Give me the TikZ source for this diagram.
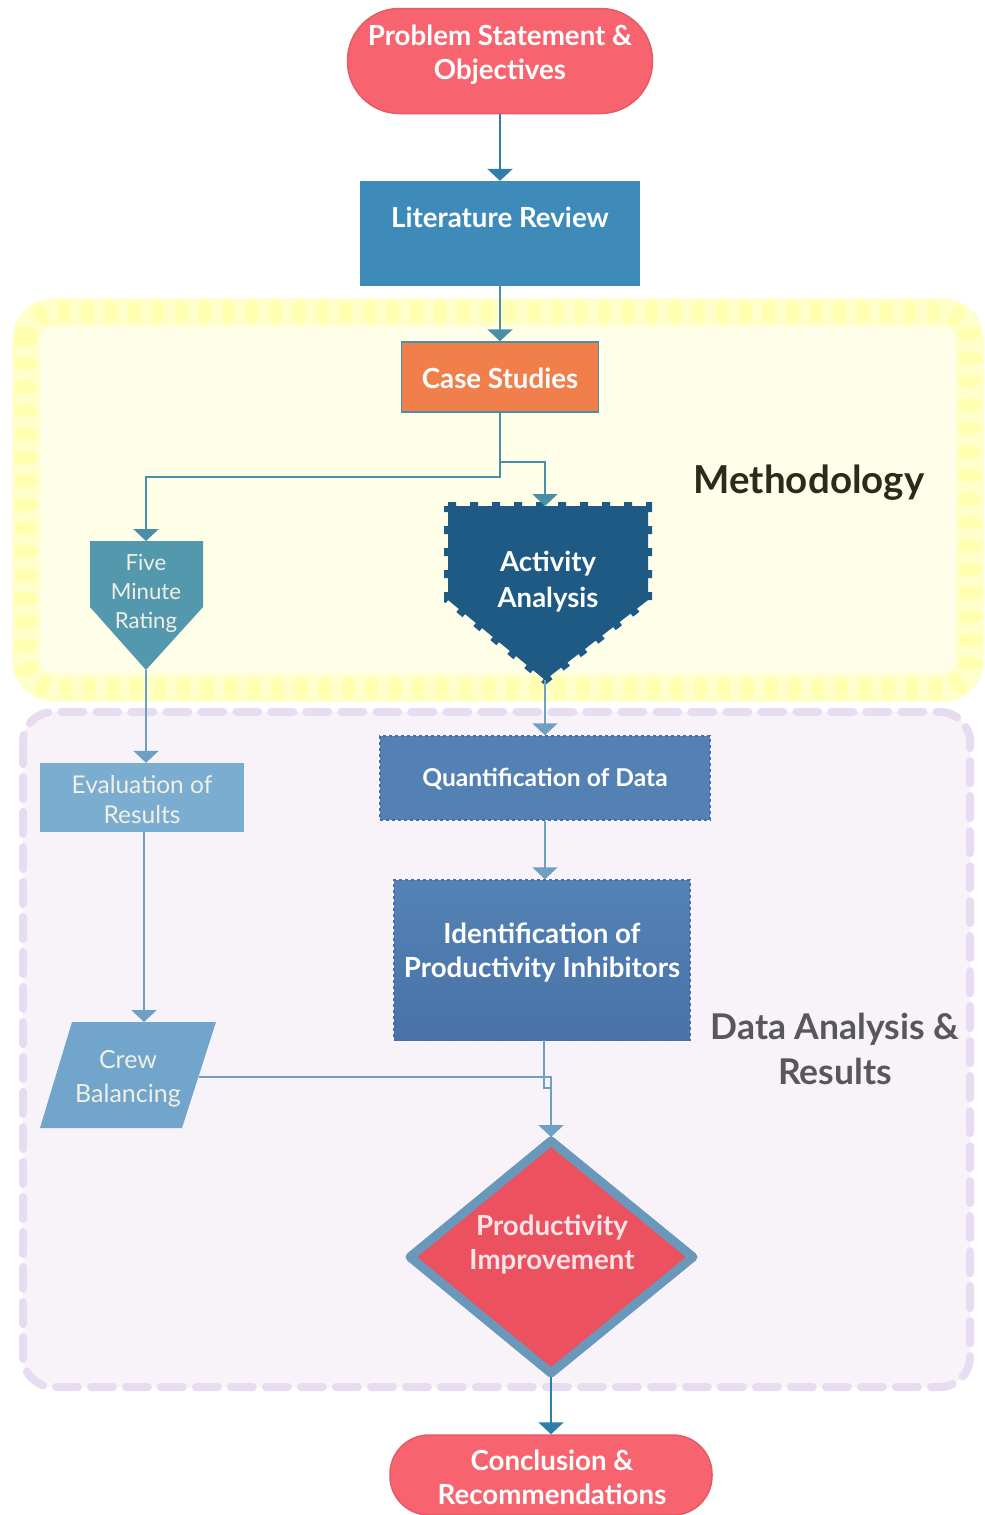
\documentclass[tikz,border=0pt]{standalone}
\usepackage{fontspec}
\setmainfont{Lato}
\usetikzlibrary{arrows.meta,decorations.markings,shapes.geometric}

\definecolor{probred}{HTML}{F7646F}
\definecolor{probborder}{HTML}{E55A65}
\definecolor{litblue}{HTML}{3E8AB8}
\definecolor{caseor}{HTML}{F07F4C}
\definecolor{fmrteal}{HTML}{5498AE}
\definecolor{aadark}{HTML}{1F5A85}
\definecolor{quantb}{HTML}{5381B3}
\definecolor{quantbd}{HTML}{4570A3}
\definecolor{identtop}{HTML}{5483B5}
\definecolor{identbot}{HTML}{4872A8}
\definecolor{evalb}{HTML}{7BADD0}
\definecolor{crewb}{HTML}{71A5CB}
\definecolor{diafill}{HTML}{EB515F}
\definecolor{diaborder}{HTML}{6A98BA}
\definecolor{linedark}{HTML}{2E7EA8}
\definecolor{lineteal}{HTML}{4A8FA8}
\definecolor{linelight}{HTML}{6FA0C4}
\definecolor{methfill}{HTML}{FEFEE9}
\definecolor{methband}{HTML}{FFFFCC}
\definecolor{methdot}{HTML}{FFFFA8}
\definecolor{dafill}{HTML}{F7F3F9}
\definecolor{daborder}{HTML}{E8DCF0}
\definecolor{methtext}{HTML}{2B2B1B}
\definecolor{datext}{HTML}{58585C}
\definecolor{cream}{HTML}{F0F0E4}
\definecolor{pinkwhite}{HTML}{FAE4E8}

\tikzset{
  arr/.style={line width=2.5pt,-{Triangle[width=25pt,length=12pt]}},
  plain/.style={line width=2.5pt},
  boxtxt/.style={text=white,align=center,inner sep=0pt},
  semib/.style={font=\fontsize{27.7}{34}\selectfont\bfseries},
  blockbox/.style={rectangle,inner sep=0pt},
}

\begin{document}
\begin{tikzpicture}[x=1pt,y=-1pt]
\useasboundingbox (0,0) rectangle (985,1515);
\fill[white] (0,0) rectangle (985,1515);

% Methodology group
\fill[methfill,rounded corners=20] (26,312) rectangle (970,688);
\draw[methband,line width=28,rounded corners=28] (26,312) rectangle (970,688);
\path[decoration={markings,mark=between positions 0 and 1 step 23.5pt with {\fill[methdot,opacity=0.8] (0,0) ellipse [x radius=7pt,y radius=12pt];}},decorate]
  [rounded corners=28] (26,312) rectangle (970,688);

% Data analysis group
\draw[daborder,fill=dafill,line width=8,rounded corners=30,dash pattern=on 22pt off 13pt,line cap=round] (23,712) rectangle (970,1387);

% Nodes
\node[blockbox,fill=probred,draw=probborder,line width=1.5,rounded corners=52,minimum width=305,minimum height=105] (prob) at (500,61) {};
\node[boxtxt,semib] (probtxt) at (500,55) {Problem Statement \&\\Objectives};

\node[blockbox,fill=litblue,minimum width=280,minimum height=105] (lit) at (500,233.5) {};
\node[boxtxt,semib] (littxt) at (500,217) {Literature Review};

\node[blockbox,fill=caseor,draw=lineteal,line width=1.5,minimum width=197,minimum height=70] (cs) at (500,377) {};
\node[boxtxt,semib] (cstxt) at (500,378) {Case Studies};

% Five minute rating
\coordinate (fmrtop) at (146,541);
\coordinate (fmrbot) at (146,670);
\fill[fmrteal] (90,541) -- (203,541) -- (203,607) -- (fmrbot) -- (90,607) -- cycle;
\node[text=cream,align=center,inner sep=0pt,font=\fontsize{22.2}{29}\selectfont] (fmrtxt) at (146,593) {Five\\Minute\\Rating};

% Activity analysis
\coordinate (aatop) at (545,506);
\coordinate (aabot) at (545,680);
\fill[aadark] (448,506) -- (648,506) -- (648,600) -- (aabot) -- (448,600) -- cycle;
\draw[aadark,line width=8,dash pattern=on 8pt off 14pt] (448,506) -- (648,506) -- (648,600) -- (aabot) -- (448,600) -- cycle;
\node[boxtxt,font=\fontsize{27.5}{36}\selectfont\bfseries] (aatxt) at (548,582) {Activity\\Analysis};

% Quantification
\node[blockbox,fill=quantb,draw=quantbd,line width=1.5,dashed,minimum width=330,minimum height=84] (quant) at (545,778) {};
\node[boxtxt,font=\fontsize{24.6}{29}\selectfont\bfseries] (quanttxt) at (545,779) {Quantification of Data};

% Identification
\node[blockbox,top color=identtop,bottom color=identbot,draw=quantbd,line width=1.5,dashed,minimum width=296,minimum height=160] (ident) at (542,960) {};
\node[boxtxt,semib] (identtxt) at (542,952) {Identification of\\Productivity Inhibitors};

% Evaluation
\node[blockbox,fill=evalb,minimum width=204,minimum height=69] (eval) at (142,797.5) {};
\node[text=cream,align=center,inner sep=0pt,font=\fontsize{24.5}{30}\selectfont] (evaltxt) at (142,800) {Evaluation of\\Results};

% Crew balancing
\coordinate (crewtop) at (144,1022);
\coordinate (crewright) at (199,1077);
\fill[crewb] (72,1022) -- (216,1022) -- (182,1128) -- (40,1128) -- cycle;
\node[text=cream,align=center,inner sep=0pt,font=\fontsize{25}{34}\selectfont] (crewtxt) at (128,1079) {Crew\\Balancing};

% Diamond
\coordinate (diatop) at (551,1137);
\coordinate (diabot) at (551,1377);
\filldraw[fill=diafill,draw=diaborder,line width=9,line join=round] (551,1141) -- (693,1257) -- (551,1373) -- (410,1257) -- cycle;
\node[text=pinkwhite,align=center,inner sep=0pt,semib] (diatxt) at (552,1245) {Productivity\\Improvement};

% Conclusion
\node[blockbox,fill=probred,draw=probborder,line width=1.5,rounded corners=39,minimum width=322,minimum height=80] (conc) at (551,1475) {};
\node[boxtxt,semib] (conctxt) at (552,1477) {Conclusion \&\\Recommendations};

% Group labels
\node[text=methtext,inner sep=0pt,font=\fontsize{38.5}{44}\selectfont\bfseries] (methlabel) at (809,483) {Methodology};
\node[text=datext,align=center,inner sep=0pt,font=\fontsize{35.5}{45}\selectfont\bfseries] (dalabel) at (835,1049) {Data Analysis \&\\Results};

% Connectors
\draw[arr,linedark] (prob.south) -- (lit.north);
\draw[arr,lineteal] (lit.south) -- (cs.north);
\draw[arr,lineteal] (cs.south) -- ++(0,64) -| (fmrtop);
\draw[arr,lineteal] (cs.south) -- ++(0,49) -| (aatop);
\draw[arr,linelight] (aabot) -- (quant.north);
\draw[arr,linelight] (quant.south) -- (quant.south |- ident.north);
\draw[arr,linelight] (fmrbot) -- (fmrbot |- eval.north);
\draw[arr,linelight] (eval.south -| crewtop) -- (crewtop);
\coordinate (identout) at (544,1040);
\draw[plain,linelight] (identout) -- (544,1088) -- (551,1088) -- (diatop);
\draw[arr,linelight] (crewright) -- (551,1077) -- (diatop);
\draw[arr,linedark] (diabot) -- (conc.north);
\end{tikzpicture}
\end{document}
